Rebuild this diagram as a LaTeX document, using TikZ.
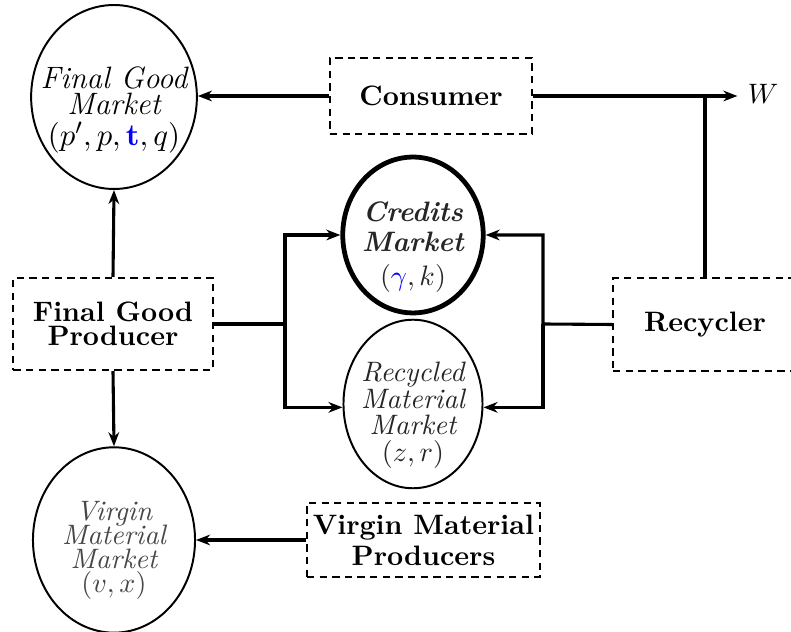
\documentclass[tikz,border=0pt]{standalone}
\usepackage{amsmath}
\usetikzlibrary{shapes.geometric,arrows.meta}
\begin{document}
\begin{tikzpicture}[x=0.356pt,y=-0.356pt,
  mkt/.style={ellipse,draw,line width=0.7pt,inner sep=0pt},
  mtxt/.style={inner sep=0pt,align=center,font=\itshape},
  agent/.style={draw,line width=0.75pt,dash pattern=on 2.6pt off 1.9pt,inner sep=0pt,align=center,font=\bfseries},
  conn/.style={line width=1.1pt},
  arr/.style={conn,-{Stealth[length=5pt,width=3.8pt,inset=1.6pt]}}]
\useasboundingbox (0,0) rectangle (791,632);
% markets (shapes)
\node[mkt,minimum width=59pt,minimum height=65.5pt] (fgm) at (114,97) {};
\node[mkt,line width=1.7pt,minimum width=50pt,minimum height=55.5pt] (cm) at (413,235) {};
\node[mkt,minimum width=49.5pt,minimum height=60pt] (rmm) at (413,404) {};
\node[mkt,minimum width=57.7pt,minimum height=66pt] (vmm) at (114,540) {};
% markets (texts)
\node[mtxt,font={\fontsize{11pt}{13pt}\selectfont\itshape}] (fgmt) at ([yshift=-4.6pt]fgm.center)
  {Final Good\\[-3.9pt] Market\\[-2pt] $(p',p,\textcolor{blue}{\mathbf{t}},q)$};
\node[mtxt,font=\bfseries\itshape,text=black!85] (cmt) at ([yshift=-4.3pt]cm.center)
  {Credits\\[-1.5pt] Market\\[0pt] $(\textcolor{blue}{\gamma},k)$};
\node[mtxt,text=black!85] (rmmt) at ([yshift=-4pt]rmm.center)
  {Recycled\\[-2.5pt] Material\\[-2.5pt] Market\\[-2.5pt] $(z,r)$};
\node[mtxt,text=black!72] (vmmt) at ([yshift=-3.8pt]vmm.center)
  {Virgin\\[-3.5pt] Material\\[-3.5pt] Market\\[-3.5pt] $(v,x)$};
% agents
\node[agent,minimum width=72pt,minimum height=27pt] (cons) at (431,96) {Consumer};
\node[agent,minimum width=71pt,minimum height=32.8pt] (fgp) at (113,324) {Final Good\\[-3.5pt] Producer};
\node[agent,minimum width=65.5pt,minimum height=33pt] (rec) at (705,324.5) {Recycler};
\node[agent,minimum width=83pt,minimum height=26.3pt] (vmp) at (423.5,540) {Virgin Material\\[-1pt] Producers};
\node[inner sep=3.5pt] (w) at (763,94) {$W$};
% junctions
\coordinate (jl) at (285,324);
\coordinate (jr) at (543,324);
% connectors
\draw[arr] (cons.west) -- (cons.west -| fgm.east);
\draw[arr] (cons.east) -- (w.west |- cons.east);
\draw[conn] (rec.north) -- (rec.north |- cons.east);
\draw[arr] (fgp.north) -- (fgm.south);
\draw[arr] (fgp.south) -- (vmm.north);
\draw[arr] (fgp.east) -- (jl) |- (cm.west);
\draw[arr] (jl) |- ([yshift=-1.2pt]rmm.west);
\draw[arr] (rec.west) -- (jr) |- (cm.east);
\draw[arr] (jr) |- ([yshift=-1.2pt]rmm.east);
\draw[arr] (vmp.west) -- (vmp.west -| vmm.east);
\end{tikzpicture}
\end{document}
